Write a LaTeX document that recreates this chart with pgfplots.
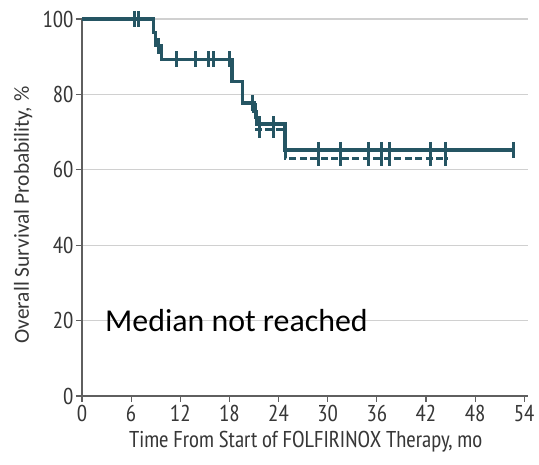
\documentclass[border=0pt]{standalone}
\usepackage{fontspec}
\IfFontExistsTF{PT Sans Narrow}{\setmainfont{PT Sans Narrow}}{\setmainfont[FakeStretch=0.82]{Liberation Sans}}
\newfontfamily\calib{Carlito}
\usepackage{pgfplots}
\pgfplotsset{compat=1.18}
\definecolor{km}{RGB}{37,85,99}
\definecolor{grd}{RGB}{208,208,208}
\definecolor{txt}{RGB}{55,55,55}
\begin{document}
\begin{tikzpicture}
\begin{axis}[
  scale only axis, width=445.5bp, height=377bp,
  xmin=0, xmax=54.4, ymin=0, ymax=100,
  axis lines*=left,
  axis line style={draw=txt!80, line width=1.1bp},
  xtick={0,6,...,54}, ytick={0,20,...,100},
  ymajorgrids, grid style={grd, line width=1.3bp},
  tick align=outside, major tick length=6bp,
  tick style={txt!80, line width=1.1bp},
  /pgf/number format/assume math mode=true,
  ticklabel style={font=\fontsize{23}{25}\selectfont, text=txt},
  xticklabel style={yshift=0bp},
  yticklabel style={xshift=1bp},
  xlabel={Time From Start of FOLFIRINOX Therapy, mo},
  ylabel={Overall Survival Probability, \%},
  xlabel style={font=\fontsize{23}{25}\selectfont, text=txt, at={(axis description cs:0.502,-0.12)}, anchor=center},
  ylabel style={font=\calib\fontsize{21.5}{24}\selectfont, text=txt, at={(axis description cs:-0.132,0.48)}, anchor=center, rotate=0},
  clip=false,
]
% dashed curve
\addplot[km, line width=3bp, dashed, dash pattern=on 7bp off 3.5bp, const plot] coordinates {
 (0,100) (8.7,96.4) (9.0,92.9) (9.7,89.3) (18.3,83.4) (19.6,77.7) (21.0,75.5) (21.3,70.6) (24.8,63.1) (44.6,63.1)};
% solid curve
\addplot[km, line width=3.4bp, const plot] coordinates {
 (0,100) (8.7,96.4) (9.0,92.9) (9.7,89.3) (18.3,83.4) (19.6,77.7) (21.0,75.5) (21.3,72.1) (24.8,65.3) (52.7,65.3)};
% censor marks, solid curve
\addplot[km, only marks, mark=|, mark size=8bp, mark options={line width=3bp}] coordinates {
 (6.35,100) (6.96,100) (9.3,92.9) (11.6,89.3) (13.8,89.3) (15.5,89.3) (16.1,89.3) (18.0,89.3)
 (20.8,77.7) (21.2,75.5) (21.7,72.1) (23.4,72.1)
 (28.9,65.3) (31.6,65.3) (35.0,65.3) (36.6,65.3) (37.5,65.3) (42.5,65.3) (44.4,65.3) (52.7,65.3)};
% censor marks, dashed curve
\addplot[km, only marks, mark=|, mark size=8bp, mark options={line width=3bp}] coordinates {
 (21.7,70.6) (23.4,70.6)
 (28.9,63.1) (31.6,63.1) (35.0,63.1) (36.6,63.1) (37.5,63.1) (42.5,63.1) (44.4,63.1)};
\node[anchor=west, font=\calib\fontsize{32}{35}\selectfont, text=black] at (axis cs:2.4,19.9) {Median not reached};
\end{axis}
\path[use as bounding box] ([xshift=-82bp,yshift=-69bp]current axis.south west) rectangle ([xshift=11.5bp,yshift=19bp]current axis.north east);
\end{tikzpicture}
\end{document}
